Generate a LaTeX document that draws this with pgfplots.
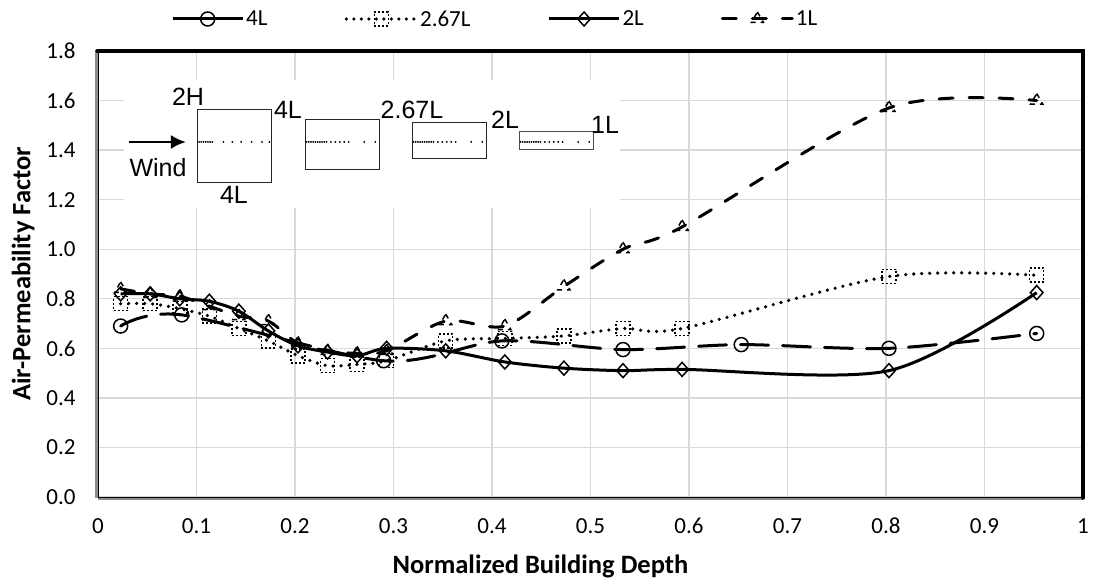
\documentclass[border=0pt]{standalone}
\usepackage{pgfplots}
\usepackage{pgfplotstable}
\pgfplotsset{compat=1.18}
\usepackage{fontspec}
\setmainfont{Carlito}
\newfontfamily\arialf{Liberation Sans}
\usetikzlibrary{arrows.meta}
\pgfplotstableread{
x y2 y267 y1
0.023 0.82 0.78 0.84
0.053 0.82 0.78 0.82
0.083 0.80 0.76 0.81
0.113 0.79 0.73 0.77
0.143 0.75 0.68 0.73
0.173 0.67 0.63 0.71
0.203 0.61 0.57 0.62
0.233 0.585 0.53 0.59
0.263 0.57 0.535 0.58
0.293 0.60 0.55 0.59
0.353 0.59 0.63 0.71
0.413 0.545 0.64 0.69
0.473 0.52 0.65 0.85
0.533 0.51 0.68 1.00
0.593 0.515 0.68 1.09
0.803 0.51 0.89 1.57
0.953 0.825 0.895 1.60
}\maindata
\pgfplotstableread{
x y
0.023 0.69
0.085 0.735
0.29 0.55
0.41 0.63
0.533 0.595
0.653 0.615
0.803 0.60
0.953 0.66
}\fourL
\pgfplotstableread{
d y
0.02 1.433
0.05 1.433
0.08 1.433
0.11 1.433
0.14 1.433
0.17 1.433
0.20 1.433
0.35 1.433
0.47 1.433
0.59 1.433
0.73 1.433
0.87 1.433
0.97 1.433
}\dotsA
\pgfplotstableread{
d y
0.02 1.433
0.05 1.433
0.08 1.433
0.11 1.433
0.14 1.433
0.17 1.433
0.20 1.433
0.23 1.433
0.26 1.433
0.29 1.433
0.35 1.433
0.41 1.433
0.47 1.433
0.53 1.433
0.59 1.433
0.80 1.433
0.95 1.433
}\dotsB
\definecolor{gridc}{gray}{0.85}
\begin{document}
\begin{tikzpicture}[x=1pt,y=1pt]
\path[use as bounding box] (-98,-89) rectangle (1001,497);
\begin{axis}[
  at={(0,0)},anchor=south west,
  scale only axis,width=985pt,height=446pt,
  xmin=0,xmax=1,ymin=0,ymax=1.8,
  xtick={0,0.1,...,1},ytick={0,0.2,...,1.8},
  xticklabels={0,0.1,0.2,0.3,0.4,0.5,0.6,0.7,0.8,0.9,1},
  /pgf/number format/assume math mode=true,
  tick label style={font=\fontsize{23}{26}\selectfont},
  xticklabel style={yshift=-18pt,text height=15pt,text depth=0pt},
  yticklabel style={xshift=-19pt,/pgf/number format/fixed,/pgf/number format/fixed zerofill,/pgf/number format/precision=1},
  grid=major,major grid style={gridc,line width=1.3pt},
  major tick length=0pt,
  axis line style={draw=none},
  xlabel={\textbf{Normalized Building Depth}},
  ylabel={\textbf{Air-Permeability Factor}},
  label style={font=\fontsize{26.5}{30}\selectfont},
  xlabel style={at={(axis description cs:0.5,0)},anchor=north,xshift=-50pt,yshift=-54pt},
  ylabel style={at={(axis description cs:0,0.5)},anchor=south,yshift=60pt},
  legend columns=4,
  legend cell align=left,
  legend style={draw=none,fill=none,at={(73pt,478pt)},anchor=west,font=\fontsize{23}{26}\selectfont,
    /tikz/every even column/.append style={column sep=75pt},inner sep=0pt},
  legend image code/.code={\draw[mark repeat=2,mark phase=2,#1] plot coordinates {(0pt,0pt)(35pt,0pt)(70pt,0pt)};},
  clip=false,
]
% legend keys
\addlegendimage{black,line width=3pt,mark=o,mark size=7,mark options={solid,fill=white,line width=1.5pt}}
\addlegendentry{4L}
\addlegendimage{black,line width=3.6pt,line cap=round,dash pattern=on 0pt off 7.5pt,mark=square,mark size=7,mark options={line cap=butt,dash pattern=on 2pt off 2pt,fill=white,line width=1.5pt}}
\addlegendentry{2.67L}
\addlegendimage{black,line width=3pt,mark=diamond,mark size=7,mark options={solid,xscale=1.2,fill=white,line width=1.5pt}}
\addlegendentry{2L}
\addlegendimage{black,line width=3pt,line cap=round,dash pattern=on 14pt off 16pt,mark=triangle,mark size=7,mark options={line cap=butt,dash pattern=on 5pt off 5pt,fill=white,line width=1.5pt}}
\addlegendentry{1L}
% frame and inset background
\begin{scope}[shift={(axis cs:0,0)},x=1pt,y=1pt]
\draw[gray!90,line width=3pt] (0,-1) -- (985,-1);
\draw[black,line width=0.8pt] (0,0) -- (985,0);
\draw[gray!90,line width=3pt] (-1,-1) -- (-1,446);
\draw[black,line width=0.8pt] (0,0) -- (0,446);
\draw[black,line width=3.5pt,line cap=round] (-1,446) -- (985,446) -- (985,-1);
\fill[white] (26,289) rectangle (522,417);
\draw[black!85,line width=0.9pt] (99.6,315) rectangle (173.5,388);
\draw[black!85,line width=0.9pt] (207,328) rectangle (281,378);
\draw[black!85,line width=0.9pt] (314,339) rectangle (388,375);
\draw[black!70,line width=0.9pt] (421,348) rectangle (495,366);
\draw[-{Latex[length=15pt,width=14pt]},line width=2.8pt] (31,355) -- (88,355);
\begin{scope}[font=\arialf\fontsize{25}{28}\selectfont]
\node at (60,329) {Wind};
\node at (90,400) {2H};
\node at (190,387) {4L};
\node at (314,387) {2.67L};
\node at (407,377) {2L};
\node at (507,372) {1L};
\node at (136,302) {4L};
\end{scope}
\end{scope}
\addplot[only marks,mark=*,mark size=0.7,black,forget plot] table[x expr={0.1011+0.0751*\thisrow{d}},y=y]{\dotsA};
\addplot[only marks,mark=*,mark size=0.7,black,forget plot] table[x expr={0.2102+0.0751*\thisrow{d}},y=y]{\dotsB};
\addplot[only marks,mark=*,mark size=0.7,black,forget plot] table[x expr={0.3188+0.0751*\thisrow{d}},y=y]{\dotsB};
\addplot[only marks,mark=*,mark size=0.7,black,forget plot] table[x expr={0.4274+0.0751*\thisrow{d}},y=y]{\dotsB};
% series
\addplot[black,line width=3.6pt,smooth,line cap=round,dash pattern=on 0pt off 8pt,no markers,forget plot] table[x=x,y=y267]{\maindata};
\addplot[black,line width=3pt,smooth,line cap=round,dash pattern=on 28pt off 14pt,no markers,forget plot] table[x=x,y=y]{\fourL};
\addplot[black,only marks,mark=o,mark size=7,mark options={solid,fill=white,line width=1.5pt},forget plot] table[x=x,y=y]{\fourL};
\addplot[black,only marks,mark=square,mark size=7,mark options={line cap=butt,dash pattern=on 2pt off 2pt,fill=white,line width=1.5pt},forget plot] table[x=x,y=y267]{\maindata};
\addplot[black,line width=3pt,smooth,mark=diamond,mark size=7,mark options={solid,xscale=1.2,fill=white,line width=1.5pt},forget plot] table[x=x,y=y2]{\maindata};
\addplot[black,line width=3pt,smooth,line cap=round,dash pattern=on 14pt off 16pt,mark=triangle,mark size=7,mark options={line cap=butt,dash pattern=on 5pt off 5pt,fill=white,line width=1.5pt},forget plot] table[x=x,y=y1]{\maindata};
\end{axis}
\end{tikzpicture}
\end{document}
